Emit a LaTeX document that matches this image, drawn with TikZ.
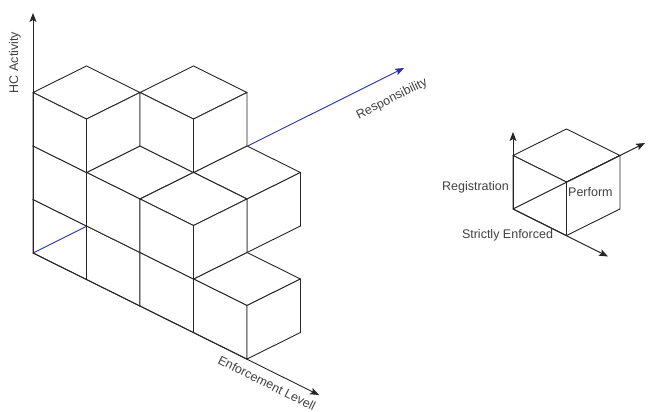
\documentclass[tikz,border=0pt]{standalone}
\usepackage{fontspec}
\setmainfont{Liberation Sans}
\usetikzlibrary{arrows.meta}
\definecolor{respblue}{RGB}{45,45,175}
\begin{document}
\begin{tikzpicture}[x=1pt,y=-1pt,
  cubeline/.style={draw=black!85, line width=0.9pt, line join=round},
  cubeface/.style={cubeline, fill=white},
  axisarrow/.style={draw=black!85, line width=0.9pt, -{Stealth[length=9pt,width=7pt,inset=2pt]}},
  resp/.style={draw=respblue, line width=0.9pt, -{Stealth[length=9pt,width=7pt,inset=2pt]}},
  lbl/.style={text=black!75, font=\fontsize{12.5}{14}\selectfont, inner sep=0pt},
  cube/.pic={
    % top face
    \filldraw[cubeface] (0,0,1) -- (0,1,1) -- (1,1,1) -- (1,0,1) -- cycle;
    % front-left face
    \filldraw[cubeface] (0,0,0) -- (1,0,0) -- (1,0,1) -- (0,0,1) -- cycle;
    % front-right face
    \filldraw[cubeface] (1,0,0) -- (1,1,0) -- (1,1,1) -- (1,0,1) -- cycle;
  }]
\useasboundingbox (0,0) rectangle (649,412);

% axis end points
\coordinate (Htip) at (33,13);
\coordinate (Etip) at (319,395);
\coordinate (Rtip) at (404,68);

% stacked cubes, painted back to front
\begin{scope}[shift={(33,253)}, x={(53.5pt,-26.5pt)}, y={(53.5pt,26.5pt)}, z={(0pt,53.5pt)}]
  \coordinate (O) at (0,0,0);
  \pic at (0,0,0) {cube};
  \draw[resp] (O) -- (Rtip);
  \pic at (1,0,0) {cube};
  \pic at (0,0,1) {cube};
  \pic at (2,0,0) {cube};
  \pic at (1,0,1) {cube};
  \pic at (2,1,1) {cube};
  \pic at (0,0,2) {cube};
  \pic at (1,1,2) {cube};
  \pic at (3,0,0) {cube};
  \pic at (2,0,1) {cube};
\end{scope}

\draw[axisarrow] (O) -- (Htip);
\draw[axisarrow] (O) -- (Etip);

\node[lbl, rotate=90] (hc) at (15,62.5) {HC Activity};
\node[lbl, rotate=26.35] (rs) at (392,99) {Responsibility};
\node[lbl, rotate=-26.35] (el) at (267,383) {Enforcement Levell};

% legend cube
\coordinate (Ltop) at (513,132);
\coordinate (Lright) at (645,143);
\coordinate (Ldown) at (608,256.5);
\begin{scope}[shift={(513,209)}, x={(53.5pt,-26.5pt)}, y={(53.5pt,26.5pt)}, z={(0pt,53.5pt)}]
  \coordinate (P) at (0,0,0);
  \pic at (0,0,0) {cube};
\end{scope}
\draw[axisarrow] (P) -- (Ltop);
\draw[axisarrow] (P) -- (Lright);
\draw[axisarrow] (P) -- (Ldown);

\node[lbl, anchor=east] (reg) at (509,187) {Registration};
\node[lbl, anchor=west] (perf) at (568,192) {Perform};
\node[lbl] (strict) at (507.5,235) {Strictly Enforced};
\end{tikzpicture}
\end{document}
